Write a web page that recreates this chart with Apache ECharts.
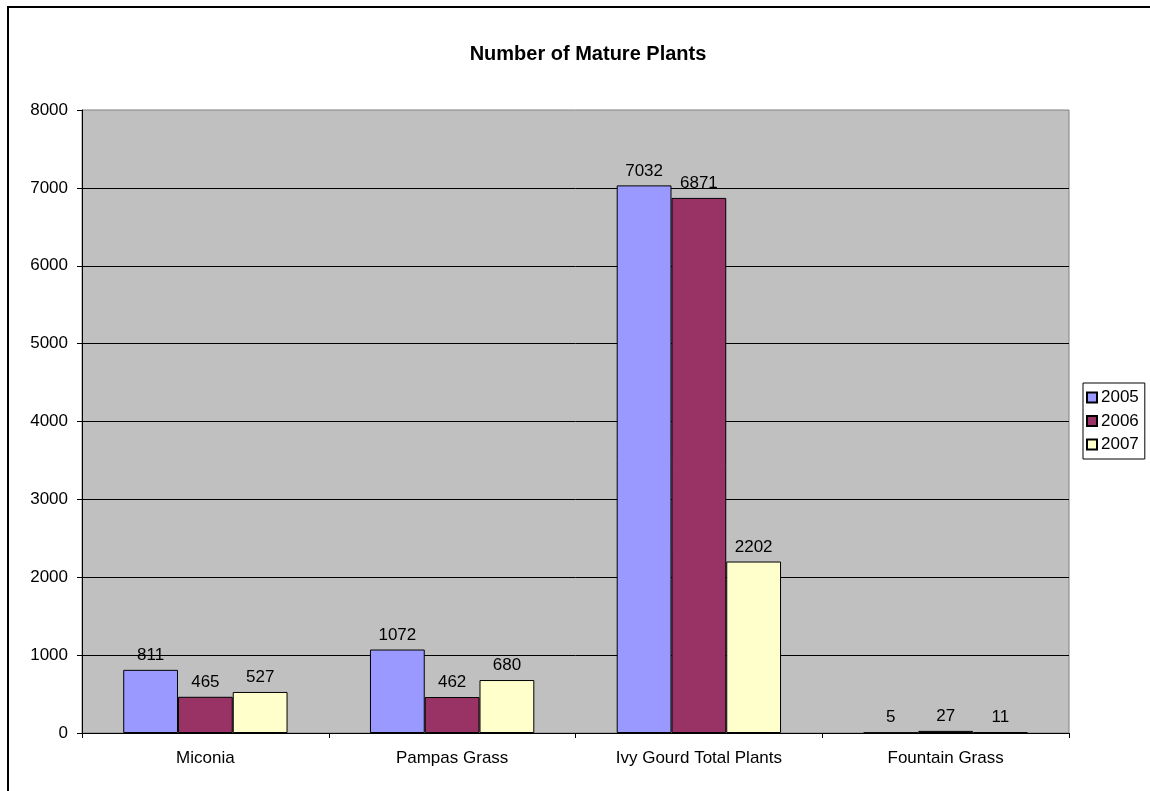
<!DOCTYPE html>
<html><head><meta charset="utf-8">
<script src="https://cdn.jsdelivr.net/npm/echarts@6/dist/echarts.min.js"></script>
<style>html,body{margin:0;padding:0;background:#fff}#c{width:1150px;height:791px}</style>
</head><body><div id="c"></div>
<script>
const categories = ["Miconia", "Pampas Grass", "Ivy Gourd Total Plants", "Fountain Grass"];
const years = ["2005", "2006", "2007"];
const values2005 = [811, 1072, 7032, 5];
const values2006 = [465, 462, 6871, 27];
const values2007 = [527, 680, 2202, 11];
const yTicks = {min: 0, max: 8000, interval: 1000};
const colors = ["#9999FF", "#993366", "#FFFFCC"];
const seriesData = [values2005, values2006, values2007];

const chart = echarts.init(document.getElementById('c'));
const font = 'Arial, "Liberation Sans", sans-serif';
chart.setOption({
  animation: false,
  textStyle: {fontFamily: font},
  title: {
    text: "Number of Mature Plants", left: 583, top: 39, textAlign: 'center',
    textStyle: {fontSize: 20, fontWeight: 'bold', color: '#000', fontFamily: font}
  },
  graphic: [{
    type: 'rect', shape: {x: 8, y: 7, width: 1160, height: 810},
    style: {fill: 'none', stroke: '#000', lineWidth: 2}, silent: true
  }],
  legend: {
    orient: 'vertical', left: 1083, top: 383,
    data: years, itemWidth: 10, itemHeight: 10, itemGap: 6.5,
    padding: [6, 6, 6, 3], borderColor: '#000', borderWidth: 1,
    icon: 'rect',
    textStyle: {fontSize: 17, lineHeight: 17, color: '#000', fontFamily: font, padding: [0, 0, 0, -1]}
  },
  grid: {
    left: 82, right: 81, top: 110, bottom: 58, show: true,
    backgroundColor: '#C0C0C0', borderColor: '#808080', borderWidth: 1
  },
  xAxis: {
    type: 'category', data: categories,
    axisLine: {lineStyle: {color: '#000', width: 1}},
    axisTick: {show: true, length: 5, lineStyle: {color: '#000'}},
    axisLabel: {color: '#000', fontSize: 17, margin: 17, fontFamily: font}
  },
  yAxis: {
    type: 'value', min: yTicks.min, max: yTicks.max, interval: yTicks.interval,
    axisLine: {show: true, lineStyle: {color: '#000', width: 1}},
    axisTick: {show: true, length: 5, lineStyle: {color: '#000'}},
    axisLabel: {color: '#000', fontSize: 17, margin: 14, fontFamily: font, formatter: v => String(v)},
    splitLine: {show: true, showMaxLine: false, lineStyle: {color: '#000', width: 1}}
  },
  series: years.map((y, i) => ({
    name: y, type: 'bar', data: seriesData[i],
    barGap: '0%', barCategoryGap: '33.4%',
    itemStyle: {color: colors[i], borderColor: '#000', borderWidth: 1},
    label: {show: true, position: 'top', distance: 6, color: '#000', fontSize: 17, fontFamily: font}
  }))
});
</script></body></html>
